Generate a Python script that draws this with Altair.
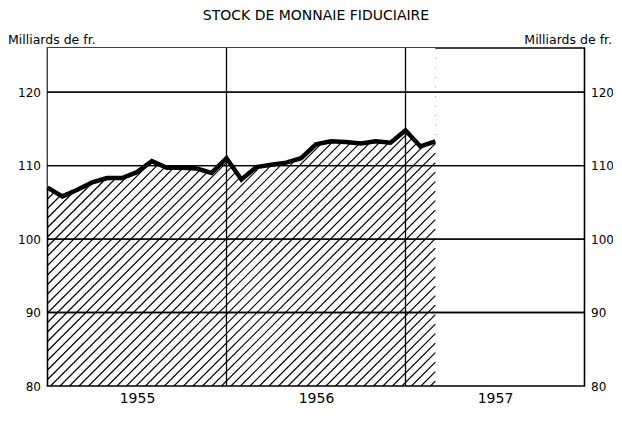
import altair as alt
import pandas as pd

# ---- data ----
month_index = list(range(27))          # 0 = Jan 1955 ... 26 = Mar 1957
stock = [107.0, 105.8, 106.7, 107.7, 108.3, 108.3, 109.1, 110.6, 109.7, 109.7, 109.6, 109.0,
         111.0, 108.1, 109.8, 110.1, 110.4, 111.0, 112.9, 113.3, 113.2, 113.0, 113.3, 113.1,
         114.8, 112.6, 113.3]
year_labels = ["1955", "1956", "1957"]
year_centers = [6, 18, 30]
year_bounds = [12, 24]
grid_levels = [90, 100, 110, 120]
y_ticks = [80, 90, 100, 110, 120]

FONT = "DejaVu Sans"
Y_MIN, Y_MAX = 80, 126
X_MAX = 36
LAST = month_index[-1]
W, H = 537, 338
px_month = W / X_MAX
px_unit = H / (Y_MAX - Y_MIN)
slope = px_month / px_unit            # value units per month -> 45 degree hatch
spacing = 9.5 / px_month              # horizontal hatch spacing in months

df = pd.DataFrame({"m": month_index, "v": stock})
grid_df = pd.DataFrame({"g": grid_levels})
bounds_df = pd.DataFrame({"b": year_bounds})

label_expr = " : ".join(f"datum.value == {c} ? '{l}'" for c, l in zip(year_centers, year_labels)) + " : ''"

xscale = alt.Scale(domain=[0, X_MAX], nice=False, zero=False)
yscale = alt.Scale(domain=[Y_MIN, Y_MAX], nice=False, zero=False)
xaxis = alt.Axis(values=year_centers, labelExpr=label_expr, ticks=False, domain=False, grid=False,
                 title=None, labelFontSize=14, labelPadding=5, labelFont=FONT, labelColor="black")

hatch = (
    alt.Chart(alt.sequence(-24, LAST + 1, spacing, as_="c"))
    .transform_calculate(xa="max(0, datum.c)",
                         xb=f"min({LAST}, datum.c + {(Y_MAX - Y_MIN) / slope})")
    .transform_calculate(ya=f"{Y_MIN} + {slope} * (datum.xa - datum.c)",
                         yb=f"{Y_MIN} + {slope} * (datum.xb - datum.c)")
    .transform_filter("datum.xb > datum.xa")
    .mark_rule(color="black", strokeWidth=1.2, clip=True)
    .encode(x=alt.X("xa:Q", scale=xscale, axis=xaxis), x2="xb:Q",
            y=alt.Y("ya:Q", scale=yscale, axis=None), y2="yb:Q")
)

mask = alt.Chart(df).mark_area(color="white", opacity=1, clip=True).encode(
    x=alt.X("m:Q", scale=xscale, axis=xaxis),
    y=alt.Y("v:Q", scale=yscale, axis=None),
    y2=alt.datum(Y_MAX),
)

axis_common = dict(values=y_ticks, ticks=False, domain=False, grid=False, labelFontSize=12,
                   labelFont=FONT, labelColor="black", title="Milliards de fr.", titleAngle=0,
                   titleBaseline="middle", titleY=-9, titleFontSize=12.5, titleFont=FONT,
                   titleFontWeight="normal", titleColor="black")

grid_left = alt.Chart(grid_df).mark_rule(color="black", strokeWidth=1.3).encode(
    y=alt.Y("g:Q", scale=yscale,
            axis=alt.Axis(orient="left", labelPadding=7, titleAlign="left", titleX=-40, **axis_common))
)
grid_right = alt.Chart(grid_df).mark_rule(color="black", strokeWidth=1.3).encode(
    y=alt.Y("g:Q", scale=yscale,
            axis=alt.Axis(orient="right", labelPadding=6, titleAlign="right", titleX=27, **axis_common))
)

years = alt.Chart(bounds_df).mark_rule(color="black", strokeWidth=1.3).encode(
    x=alt.X("b:Q", scale=xscale, axis=xaxis)
)

line = alt.Chart(df).mark_line(color="black", strokeWidth=4.5, strokeJoin="miter").encode(
    x=alt.X("m:Q", scale=xscale, axis=xaxis),
    y=alt.Y("v:Q", scale=yscale, axis=None),
)

chart = (
    alt.layer(hatch, mask, grid_left, grid_right, years, line)
    .resolve_scale(y="independent")
    .properties(
        width=W, height=H,
        autosize=alt.AutoSizeParams(type="none"),
        padding={"left": 39.5, "top": 40, "right": 28, "bottom": 22},
        title=alt.TitleParams("STOCK DE MONNAIE FIDUCIAIRE", font=FONT, fontSize=14,
                              fontWeight="normal", color="black", anchor="middle", offset=10),
        background="white",
    )
    .configure_view(stroke="black", strokeWidth=1.6)
)

chart.save("out.html", embed_options={"renderer": "svg", "actions": False})
